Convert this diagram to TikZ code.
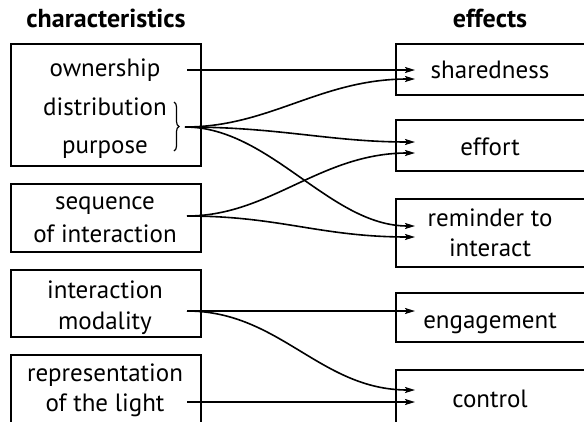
\documentclass[tikz,border=0pt]{standalone}
\usepackage{fontspec}
\setmainfont{PT Sans}
\usetikzlibrary{arrows.meta,decorations.pathreplacing}
\begin{document}
\begin{tikzpicture}[x=1pt,y=-1pt,
  box/.style={draw,line width=2pt,inner sep=0pt},
  lbl/.style={font=\fontsize{25}{25}\selectfont,anchor=base,inner sep=0pt},
  hdr/.style={font=\fontsize{26}{26}\selectfont\bfseries,anchor=base,inner sep=0pt},
  conn/.style={line width=1.6pt,-{Stealth[length=10pt,width=6pt,inset=2pt]}},
  plainline/.style={line width=1.6pt}]
\useasboundingbox (0,0) rectangle (584,421);
\clip (0,0) rectangle (584,421);
% headers
\node[hdr] (hc) at (106,27) {characteristics};
\node[hdr] (he) at (490,27) {effects};
% left boxes
\node[box,minimum width=190pt,minimum height=122pt] (b1) at (106,105) {};
\node[box,minimum width=190pt,minimum height=68pt] (b2) at (106,218) {};
\node[box,minimum width=190pt,minimum height=67pt] (b3) at (106,303.5) {};
\node[box,minimum width=190pt,minimum height=105pt] (b4) at (106,407.5) {};
% right boxes
\node[box,minimum width=224pt,minimum height=51pt] (r1) at (508,69.5) {};
\node[box,minimum width=224pt,minimum height=51pt] (r2) at (508,145.5) {};
\node[box,minimum width=224pt,minimum height=68pt] (r3) at (508,233) {};
\node[box,minimum width=224pt,minimum height=49pt] (r4) at (508,317.5) {};
\node[box,minimum width=224pt,minimum height=90pt] (r5) at (508,415) {};
% left texts
\node[lbl] (own) at (105,76) {ownership};
\node[lbl] (dis) at (105,115) {distribution};
\node[lbl] (pur) at (105,153) {purpose};
\node[lbl] (seq) at (105,209) {sequence};
\node[lbl] (ofi) at (105,242) {of interaction};
\node[lbl] (int) at (105,298) {interaction};
\node[lbl] (mod) at (105,329) {modality};
\node[lbl] (rep) at (105,381) {representation};
\node[lbl] (otl) at (105,411) {of the light};
% right texts
\node[lbl] (sha) at (490,78) {sharedness};
\node[lbl] (eff) at (490,155) {effort};
\node[lbl] (rem) at (490,226) {reminder to};
\node[lbl] (ita) at (490,256) {interact};
\node[lbl] (eng) at (490,328) {engagement};
\node[lbl] (con) at (490,407) {control};
% brace
\draw[decorate,decoration={brace,amplitude=5pt},line width=1.2pt] (174,102) -- (174,151);
% start points
\coordinate (sOwn) at (187,70);
\coordinate (sGrp) at (185,127);
\coordinate (sSeq) at (187,216);
\coordinate (sMod) at (187,311);
\coordinate (sRep) at (187,402);
% end points
\coordinate (eSh1) at (415,70);
\coordinate (eSh2) at (415,79);
\coordinate (eEf1) at (415,142);
\coordinate (eEf2) at (415,153);
\coordinate (eRe1) at (415,226);
\coordinate (eRe2) at (415,237);
\coordinate (eEn) at (415,311);
\coordinate (eCo1) at (415,390);
\coordinate (eCo2) at (415,402);
% connectors
\draw[conn] (sOwn) -- (eSh1);
\draw[conn] (sGrp) .. controls (270,127) and (320,79) .. (eSh2);
\draw[conn] (sGrp) .. controls (280,127) and (330,142) .. (eEf1);
\draw[conn] (sGrp) .. controls (270,127) and (330,226) .. (eRe1);
\draw[conn] (sSeq) .. controls (270,216) and (320,153) .. (eEf2);
\draw[conn] (sSeq) .. controls (280,216) and (320,237) .. (eRe2);
\draw[conn] (sMod) -- (eEn);
\draw[conn] (sMod) .. controls (280,311) and (320,390) .. (eCo1);
\draw[conn] (sRep) -- (eCo2);
\end{tikzpicture}
\end{document}
